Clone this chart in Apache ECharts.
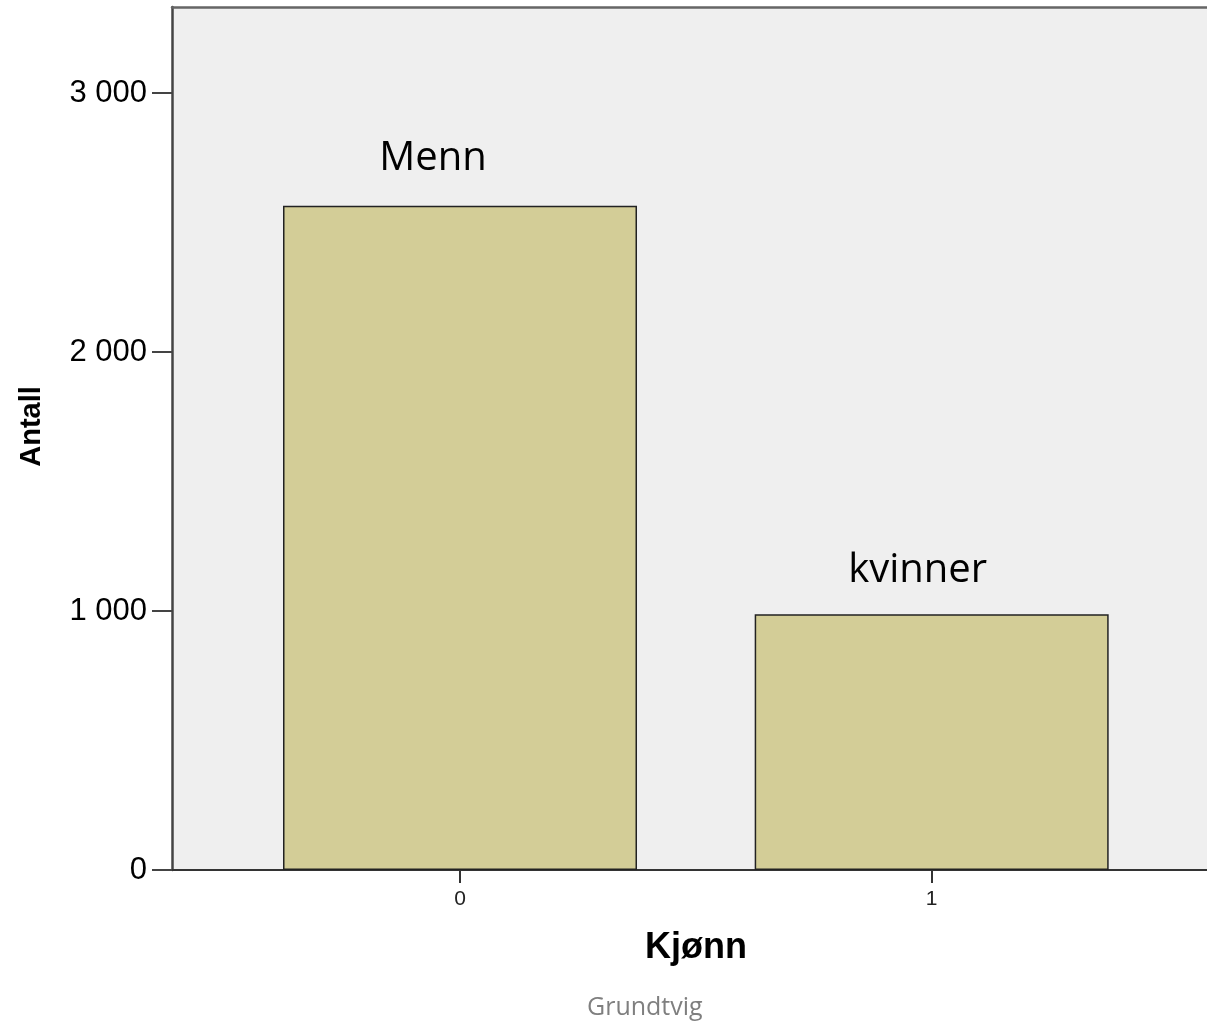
<!DOCTYPE html>
<html>
<head>
<meta charset="utf-8">
<script src="https://cdn.jsdelivr.net/npm/echarts@6/dist/echarts.min.js"></script>
<style>
html,body{margin:0;padding:0;background:#fff;}
#chart{width:1207px;height:1026px;}
</style>
</head>
<body>
<div id="chart"></div>
<script>
// Data
const categories = [0, 1];
const barLabels = ['Menn', 'kvinner'];
const counts = [2565, 988];
const yTicks = [0, 1000, 2000, 3000];
const xTicks = [0, 1];

const fmt = v => String(v).replace(/\B(?=(\d{3})+(?!\d))/g, ' ');

const labelOffsets = [[-27, 0], [-14, 0]];
const labelDistances = [27, 24];

const chart = echarts.init(document.getElementById('chart'));
chart.setOption({
  backgroundColor: '#ffffff',
  animation: false,
  title: {
    text: 'Grundtvig',
    left: 582,
    top: 990,
    textStyle: {fontFamily: 'Open Sans', fontSize: 25, fontWeight: 'normal', color: '#7f7f7f'}
  },
  grid: {
    left: 172, top: 7, bottom: 156, right: 0,
    show: true, backgroundColor: '#efefef', borderColor: 'rgba(0,0,0,0)', borderWidth: 0
  },
  xAxis: [{
    type: 'value',
    min: -0.6106,
    max: 1.5837,
    name: 'Kjønn',
    nameLocation: 'middle',
    nameGap: 60,
    nameTextStyle: {fontFamily: 'Liberation Sans', fontSize: 36, fontWeight: 'bold', color: '#000', padding: [0, 0, 0, 13]},
    axisLine: {show: true, onZero: false, lineStyle: {color: '#333', width: 2}},
    axisTick: {show: true, customValues: xTicks, length: 13, lineStyle: {color: '#333', width: 2}},
    axisLabel: {customValues: xTicks, fontFamily: 'Liberation Sans', fontSize: 21, color: '#222', margin: 19},
    splitLine: {show: false}
  }, {
    type: 'value',
    position: 'top',
    min: -0.6106,
    max: 1.5837,
    axisLine: {show: true, onZero: false, lineStyle: {color: '#666', width: 2.5}},
    axisTick: {show: false},
    axisLabel: {show: false},
    splitLine: {show: false}
  }],
  yAxis: {
    type: 'value',
    min: 0,
    max: 3333,
    name: 'Antall',
    nameLocation: 'middle',
    nameGap: 126,
    nameRotate: 90,
    nameTextStyle: {fontFamily: 'Liberation Sans', fontSize: 29, fontWeight: 'bold', color: '#000', padding: [0, 0, 0, 24]},
    axisLine: {show: true, onZero: false, lineStyle: {color: '#444', width: 2.5}},
    axisTick: {show: true, customValues: yTicks, length: 20, lineStyle: {color: '#444', width: 2}},
    axisLabel: {customValues: yTicks, formatter: fmt, fontFamily: 'Liberation Sans', fontSize: 31, color: '#000', margin: 25},
    splitLine: {show: false}
  },
  series: [{
    type: 'bar',
    xAxisIndex: 0,
    barWidth: 354,
    data: counts.map((v, i) => ({
      value: [categories[i], v],
      label: {offset: labelOffsets[i], distance: labelDistances[i]}
    })),
    itemStyle: {color: '#d3cd97', borderColor: '#222', borderWidth: 1.5},
    label: {
      show: true,
      position: 'top',
      formatter: p => barLabels[p.dataIndex],
      fontFamily: 'Open Sans',
      fontSize: 40,
      color: '#000'
    }
  }]
});
</script>
</body>
</html>
